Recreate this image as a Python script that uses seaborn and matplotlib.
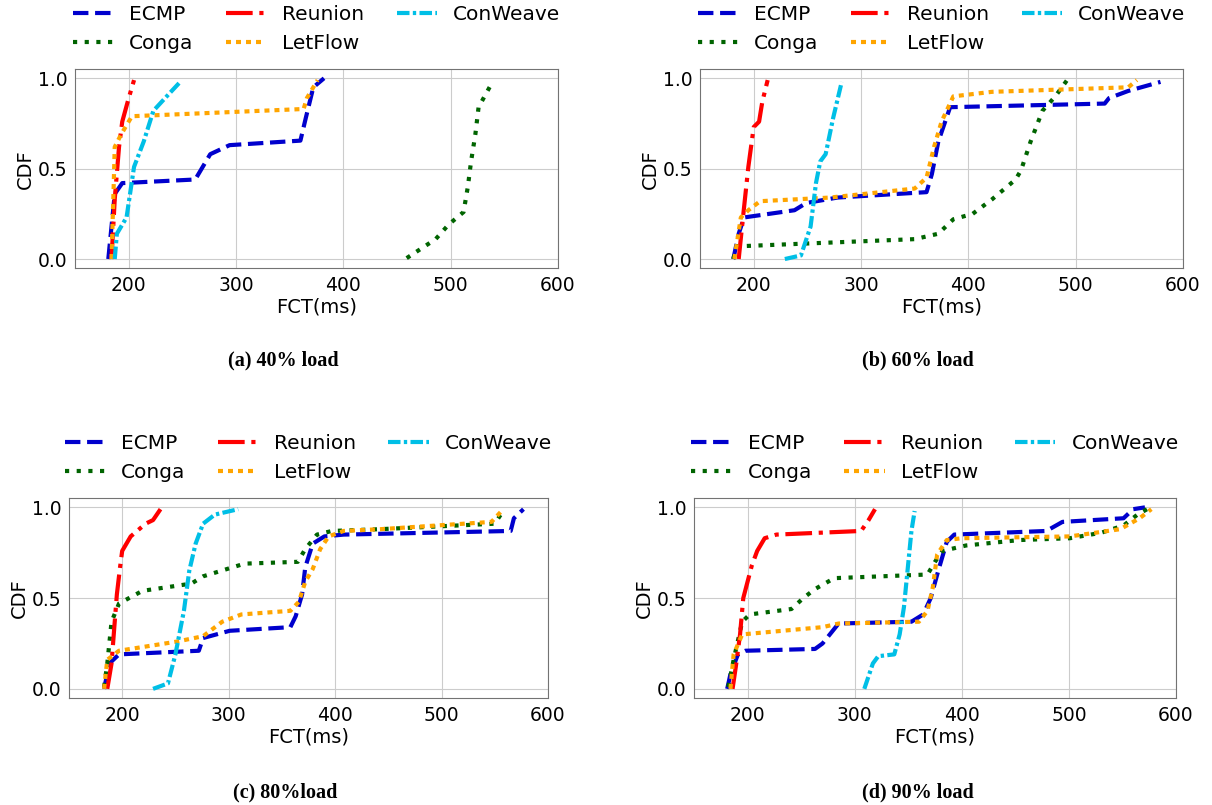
import matplotlib
matplotlib.use('Agg')
import matplotlib.pyplot as plt
import seaborn as sns
import pandas as pd

# FCT CDF per load level
series_names = ['ECMP', 'Conga', 'Reunion', 'LetFlow', 'ConWeave']
captions = ['(a) 40% load', '(b) 60% load', '(c) 80%load', '(d) 90% load']

# 40% load
a_ecmp_x = [181, 187, 194, 262, 276, 294, 360, 365, 372, 382]
a_ecmp_y = [0.0, 0.36, 0.42, 0.44, 0.58, 0.63, 0.655, 0.78, 0.95, 1.0]
a_reunion_x = [184, 187, 191, 194, 200, 205]
a_reunion_y = [0.0, 0.33, 0.62, 0.76, 0.89, 0.99]
a_conweave_x = [187, 189, 198, 205, 214, 223, 237, 248]
a_conweave_y = [0.0, 0.14, 0.23, 0.51, 0.65, 0.82, 0.91, 0.98]
a_conga_x = [459, 486, 498, 512, 516, 519, 523, 526, 539]
a_conga_y = [0.005, 0.11, 0.19, 0.26, 0.40, 0.54, 0.69, 0.84, 0.98]
a_letflow_x = [184, 186, 187, 193, 203, 363, 366, 376]
a_letflow_y = [0.0, 0.40, 0.62, 0.69, 0.79, 0.83, 0.89, 0.99]

# 60% load
b_ecmp_x = [181, 186, 191, 238, 249, 278, 361, 366, 372, 383, 527, 531, 549, 579]
b_ecmp_y = [0.0, 0.14, 0.23, 0.27, 0.31, 0.34, 0.37, 0.47, 0.65, 0.84, 0.86, 0.89, 0.93, 0.98]
b_reunion_x = [186, 190, 195, 200, 205, 208, 213]
b_reunion_y = [0.0, 0.23, 0.51, 0.73, 0.76, 0.87, 0.99]
b_conweave_x = [229, 244, 253, 258, 262, 267, 274, 282]
b_conweave_y = [0.0, 0.02, 0.18, 0.42, 0.54, 0.58, 0.78, 0.98]
b_conga_x = [181, 184, 350, 372, 386, 404, 422, 444, 449, 458, 469, 481, 492]
b_conga_y = [0.0, 0.07, 0.11, 0.14, 0.22, 0.25, 0.33, 0.44, 0.49, 0.65, 0.82, 0.90, 0.99]
b_letflow_x = [182, 188, 195, 206, 271, 350, 361, 368, 375, 386, 422, 549, 557]
b_letflow_y = [0.0, 0.23, 0.27, 0.32, 0.34, 0.39, 0.45, 0.62, 0.76, 0.90, 0.925, 0.95, 0.99]

# 80% load
c_ecmp_x = [183, 188, 197, 272, 276, 301, 358, 363, 369, 372, 379, 390, 408, 565, 568, 577]
c_ecmp_y = [0.0, 0.14, 0.19, 0.21, 0.28, 0.32, 0.34, 0.40, 0.52, 0.67, 0.80, 0.84, 0.85, 0.87, 0.94, 0.99]
c_reunion_x = [186, 190, 193, 195, 198, 200, 208, 222, 229, 236]
c_reunion_y = [0.0, 0.14, 0.37, 0.52, 0.67, 0.76, 0.84, 0.91, 0.93, 0.99]
c_conweave_x = [229, 243, 250, 258, 263, 269, 276, 287, 309]
c_conweave_y = [0.0, 0.03, 0.19, 0.43, 0.65, 0.80, 0.91, 0.96, 0.99]
c_conga_x = [183, 186, 190, 197, 219, 265, 276, 315, 365, 372, 383, 397, 443, 550, 559]
c_conga_y = [0.01, 0.14, 0.37, 0.47, 0.54, 0.58, 0.62, 0.69, 0.70, 0.77, 0.85, 0.87, 0.88, 0.91, 0.99]
c_letflow_x = [183, 186, 197, 251, 276, 294, 312, 358, 366, 372, 379, 386, 394, 408, 443, 547, 558]
c_letflow_y = [0.0, 0.16, 0.21, 0.26, 0.29, 0.37, 0.41, 0.43, 0.48, 0.59, 0.66, 0.77, 0.84, 0.87, 0.88, 0.92, 0.99]

# 90% load
d_ecmp_x = [181, 184, 191, 198, 263, 270, 285, 353, 364, 371, 378, 386, 393, 479, 494, 551, 560, 571]
d_ecmp_y = [0.0, 0.08, 0.19, 0.21, 0.22, 0.25, 0.36, 0.37, 0.41, 0.50, 0.65, 0.81, 0.85, 0.87, 0.92, 0.94, 0.99, 1.0]
d_reunion_x = [186, 189, 193, 196, 204, 209, 216, 227, 306, 313, 319]
d_reunion_y = [0.0, 0.12, 0.30, 0.50, 0.68, 0.76, 0.83, 0.85, 0.87, 0.93, 0.99]
d_conweave_x = [309, 317, 322, 337, 342, 346, 350, 353, 356]
d_conweave_y = [0.0, 0.14, 0.18, 0.19, 0.30, 0.45, 0.69, 0.87, 0.98]
d_conga_x = [182, 187, 195, 202, 241, 252, 263, 281, 368, 375, 382, 404, 454, 501, 530, 551, 564, 573]
d_conga_y = [0.01, 0.16, 0.37, 0.41, 0.44, 0.50, 0.55, 0.61, 0.63, 0.70, 0.76, 0.79, 0.82, 0.83, 0.86, 0.90, 0.96, 0.99]
d_letflow_x = [184, 187, 195, 270, 285, 360, 368, 373, 377, 386, 400, 501, 548, 566, 577]
d_letflow_y = [0.0, 0.19, 0.30, 0.34, 0.36, 0.37, 0.43, 0.56, 0.74, 0.82, 0.83, 0.84, 0.88, 0.94, 0.99]

panels = [
    {'ECMP': (a_ecmp_x, a_ecmp_y), 'Conga': (a_conga_x, a_conga_y), 'Reunion': (a_reunion_x, a_reunion_y),
     'LetFlow': (a_letflow_x, a_letflow_y), 'ConWeave': (a_conweave_x, a_conweave_y)},
    {'ECMP': (b_ecmp_x, b_ecmp_y), 'Conga': (b_conga_x, b_conga_y), 'Reunion': (b_reunion_x, b_reunion_y),
     'LetFlow': (b_letflow_x, b_letflow_y), 'ConWeave': (b_conweave_x, b_conweave_y)},
    {'ECMP': (c_ecmp_x, c_ecmp_y), 'Conga': (c_conga_x, c_conga_y), 'Reunion': (c_reunion_x, c_reunion_y),
     'LetFlow': (c_letflow_x, c_letflow_y), 'ConWeave': (c_conweave_x, c_conweave_y)},
    {'ECMP': (d_ecmp_x, d_ecmp_y), 'Conga': (d_conga_x, d_conga_y), 'Reunion': (d_reunion_x, d_reunion_y),
     'LetFlow': (d_letflow_x, d_letflow_y), 'ConWeave': (d_conweave_x, d_conweave_y)},
]

colors = {'ECMP': '#0000CD', 'Conga': '#006400', 'Reunion': '#FF0000', 'LetFlow': '#FFA500', 'ConWeave': '#00BFE6'}
styles = {'ECMP': '--', 'Conga': (0, (1, 1.8)), 'Reunion': '-.',
          'LetFlow': (0, (1.2, 1.2)), 'ConWeave': (0, (3, 0.8, 0.8, 0.8))}

sns.set_style('whitegrid', {'axes.edgecolor': '0.45', 'grid.color': '0.8'})
plt.rcParams['font.family'] = ['DejaVu Sans']
plt.rcParams['text.color'] = 'black'
plt.rcParams['xtick.color'] = 'black'
plt.rcParams['ytick.color'] = 'black'
plt.rcParams['axes.labelcolor'] = 'black'

fig = plt.figure(figsize=(12.12, 8.05), dpi=100)

# axes boxes [left, bottom, width, height] in figure fraction
boxes = [[0.0619, 0.667, 0.3985, 0.247], [0.5776, 0.667, 0.3985, 0.247],
         [0.0569, 0.133, 0.3952, 0.248], [0.5726, 0.133, 0.3977, 0.248]]
cap_pos = [(0.234, 0.552), (0.757, 0.552), (0.235, 0.016), (0.757, 0.016)]

for i, data in enumerate(panels):
    ax = fig.add_axes(boxes[i])
    for name in series_names:
        xs, ys = data[name]
        df = pd.DataFrame({'FCT': xs, 'CDF': ys})
        sns.lineplot(data=df, x='FCT', y='CDF', ax=ax, color=colors[name], linestyle=styles[name],
                     linewidth=3, label=name, estimator=None, sort=False)
    ax.set_xlim(150, 600)
    ax.set_ylim(-0.05, 1.05)
    ax.set_xticks([200, 300, 400, 500, 600])
    ax.set_yticks([0.0, 0.5, 1.0])
    ax.tick_params(labelsize=13.5, pad=2)
    ax.set_xlabel('FCT(ms)', fontsize=14, labelpad=2)
    ax.set_ylabel('CDF', fontsize=14, labelpad=2)
    ax.legend(loc='lower center', bbox_to_anchor=(0.5, 1.02), ncol=3, frameon=False, fontsize=14.5,
              handlelength=2, handletextpad=0.8, columnspacing=1.6, borderaxespad=0.2)
    fig.text(cap_pos[i][0], cap_pos[i][1], captions[i], ha='center', va='center',
             family='Liberation Serif', fontweight='bold', fontsize=14.5)

fig.savefig('out.png', dpi=100)
